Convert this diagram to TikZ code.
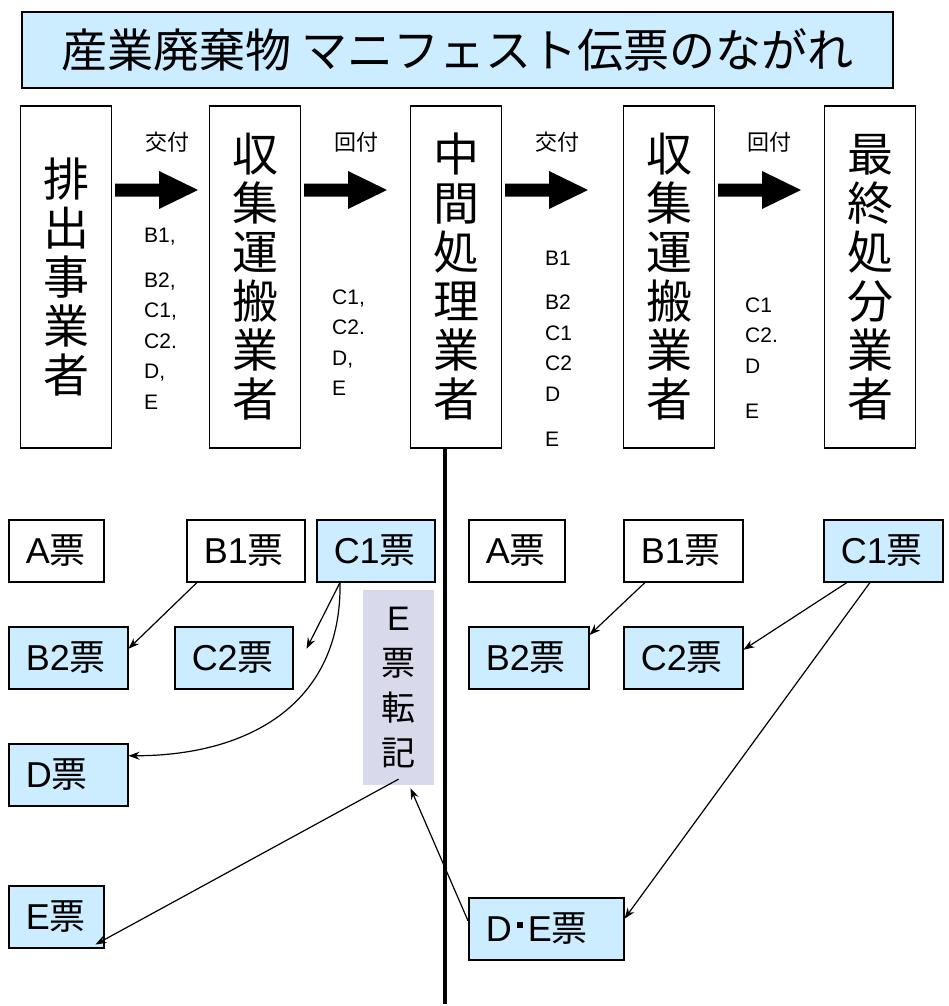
\documentclass[tikz,border=0pt]{standalone}
\usepackage{fontspec}
\setmainfont{Liberation Sans}
\newfontfamily\jp{Noto Sans CJK JP}
\usetikzlibrary{arrows.meta,calc}
\definecolor{hyoblue}{RGB}{204,236,255}
\definecolor{tenkigray}{RGB}{217,217,236}
\newcommand{\hyo}{{\jp 票}}
\tikzset{
  actor/.style={draw,line width=1.6pt,minimum width=91pt,minimum height=342pt,align=center,
    font=\jp\fontsize{46}{49}\selectfont},
  ticket/.style={draw,line width=1.5pt,minimum height=62pt,inner xsep=17pt,align=left,
    anchor=north west,font=\fontsize{36}{40}\selectfont},
  blue/.style={fill=hyoblue},
  slip/.style={anchor=north west,inner sep=0pt,align=left,font=\fontsize{21}{30.5}\selectfont},
  hand/.style={font=\jp\fontsize{22}{24}\selectfont},
  link/.style={line width=1.2pt,-{Stealth[length=11pt,width=8pt]}},
  blockarr/.pic={\fill (0,-6.5) -- (44,-6.5) -- (44,-19) -- (83,0) -- (44,19) -- (44,6.5) -- (0,6.5) -- cycle;}
}
\begin{document}
\begin{tikzpicture}[x=1pt,y=-1pt]
\useasboundingbox (0,0) rectangle (948,1006);
\node[draw,blue,line width=1.5pt,minimum width=871pt,minimum height=76pt,
  font=\jp\fontsize{46}{50}\selectfont] (title) at (457.5,50) {産業廃棄物 マニフェスト伝票のながれ};

\node[actor] (haishutsu) at (66,277) {排\\出\\事\\業\\者};
\node[actor] (shushu1) at (255,277) {収\\集\\運\\搬\\業\\者};
\node[actor] (chukan) at (456,277) {中\\間\\処\\理\\業\\者};
\node[actor] (shushu2) at (669,277) {収\\集\\運\\搬\\業\\者};
\node[actor] (saishu) at (870,277) {最\\終\\処\\分\\業\\者};

\pic at (115,190) {blockarr};
\pic at (304,190) {blockarr};
\pic at (505,190) {blockarr};
\pic at (718,190) {blockarr};

\node[hand] (kofu1) at (167,142) {交付};
\node[hand] (kaifu1) at (356,142) {回付};
\node[hand] (kofu2) at (557,142) {交付};
\node[hand] (kaifu2) at (769,142) {回付};

\node[slip] (slip1) at (144,227.5) {B1,\\[14.5pt]B2,\\C1,\\C2.\\D,\\E};
\node[slip] (slip2) at (332,289.5) {C1,\\C2.\\D,\\E};
\node[slip] (slip3) at (545,250.5) {B1\\[14pt]B2\\C1\\C2\\D\\[14.5pt]E};
\node[slip] (slip4) at (745,297.5) {C1\\C2.\\D\\[14.5pt]E};

\draw[line width=4.5pt] ([xshift=-11pt]chukan.south) -- ++(0,555);

\node[ticket,text width=61pt] (lA) at (8,519) {A\hyo};
\node[ticket,text width=84pt] (lB1) at (186,519) {B1\hyo};
\node[ticket,blue,text width=84pt] (lC1) at (316,519) {C1\hyo};
\node[ticket,blue,text width=85pt] (lB2) at (8,626) {B2\hyo};
\node[ticket,blue,text width=84pt] (lC2) at (174,626) {C2\hyo};
\node[ticket,blue,text width=85pt] (lD) at (8,743) {D\hyo};
\node[ticket,blue,text width=61pt] (lE) at (8,885) {E\hyo};
\node[fill=tenkigray,minimum width=71pt,minimum height=195pt,align=center,
  font=\fontsize{34}{45}\selectfont] (tenki) at (398.5,687.5) {E\\\hyo\\{\jp 転}\\{\jp 記}};

\node[ticket,text width=62pt] (rA) at (468,519) {A\hyo};
\node[ticket,text width=85pt] (rB1) at (623,519) {B1\hyo};
\node[ticket,blue,text width=85pt] (rC1) at (823,519) {C1\hyo};
\node[ticket,blue,text width=86pt] (rB2) at (468,626) {B2\hyo};
\node[ticket,blue,text width=85pt] (rC2) at (623,626) {C2\hyo};
\node[ticket,blue,text width=121pt] (rDE) at (468,897) {D\kern5pt\rule[14pt]{6pt}{6pt}\kern5pt E\hyo};

\draw[link] ([xshift=11pt]lB1.south west) -- ([yshift=9pt]lB2.east);
\draw[link] ([xshift=24pt]lC1.south west) -- ([xshift=13pt,yshift=9pt]lC2.east);
\draw[link] ([xshift=24pt]lC1.south west) .. controls +(2,119) and +(123,0) .. ([yshift=19pt]lD.east);
\draw[link] ([yshift=6pt]tenki.south) -- ([xshift=-9pt,yshift=4pt]lE.south east);
\draw[link] ([yshift=8pt]rDE.west) -- ([xshift=12pt,yshift=-3pt]tenki.south);
\draw[link] ([xshift=22pt]rB1.south west) -- ([yshift=-9pt]rB2.north east);
\draw[link] ([xshift=24pt]rC1.south west) -- ([yshift=8pt]rC2.east);
\draw[link] ([xshift=47pt]rC1.south west) -- ([yshift=10pt]rDE.east);
\end{tikzpicture}
\end{document}
